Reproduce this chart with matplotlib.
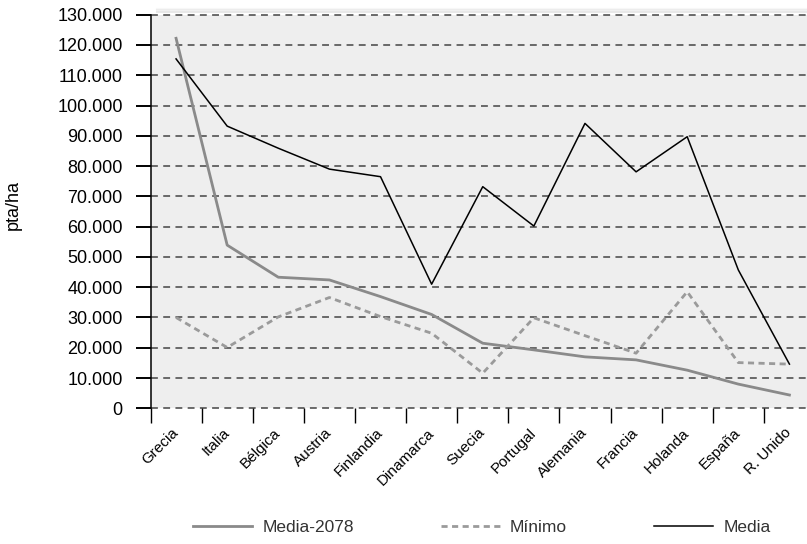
import numpy as np
import matplotlib
matplotlib.use("Agg")
import matplotlib.pyplot as plt
from matplotlib.lines import Line2D

# pta/ha por país
paises = ["Grecia", "Italia", "Bélgica", "Austria", "Finlandia", "Dinamarca",
          "Suecia", "Portugal", "Alemania", "Francia", "Holanda", "España", "R. Unido"]
media_2078 = [122200, 53900, 43300, 42400, 36900, 31000, 21500, 19300, 17000, 16000, 12600, 8000, 4400]
minimo = [30000, 20100, 30200, 36600, 30300, 24800, 11600, 29900, 24000, 18200, 38500, 15100, 14600]
media = [115400, 93200, 85900, 79000, 76500, 41000, 73200, 60200, 94100, 78100, 89700, 45700, 14600]

yticks = np.arange(0, 130001, 10000)
ytick_labels = ["0"] + ["{:,}".format(v).replace(",", ".") for v in yticks[1:]]

fig = plt.figure(figsize=(8.07, 5.44), dpi=100)
ax = fig.add_axes([0.1865, 0.2494, 0.8234, 0.7236])
ax.set_facecolor("#eeeeee")

x = np.arange(len(paises))

# rejilla horizontal discontinua
for v in yticks:
    ax.axhline(v, color="#444444", lw=1.1, ls=(0, (4.5, 3.5)), zorder=1, clip_on=False)

ax.plot(x, media_2078, color="#8a8a8a", lw=2.0, zorder=3)
ax.plot(x, minimo, color="#9a9a9a", lw=2.0, ls=(0, (2.2, 1.6)), zorder=3)
ax.plot(x, media, color="black", lw=1.1, zorder=4)

ax.set_xlim(-0.5, len(paises) - 0.5)
ax.set_ylim(0, 130000)

for s in ["top", "right", "bottom"]:
    ax.spines[s].set_visible(False)
ax.spines["left"].set_linewidth(1.1)
ax.spines["left"].set_zorder(5)

ax.set_yticks(yticks)
ax.set_yticklabels(ytick_labels, fontsize=13, family=["Liberation Sans", "DejaVu Sans"])
ax.tick_params(axis="y", direction="out", length=11, width=1.4, pad=9, color="black")

ax.set_xticks(np.arange(len(paises) + 1) - 0.5)
ax.set_xticklabels([])
ax.set_xticks(x, minor=True)
ax.set_xticklabels(paises, minor=True, rotation=45, ha="right", va="center",
                   rotation_mode="anchor", fontsize=11,
                   family=["Liberation Sans Narrow", "Liberation Sans", "DejaVu Sans"])
ax.tick_params(axis="x", which="major", direction="out", length=11, width=1.0, color="black")
ax.tick_params(axis="x", which="minor", length=0, pad=16)

ax.set_ylabel("pta/ha", fontsize=13, family=["Liberation Sans", "DejaVu Sans"], va="center")
ax.yaxis.set_label_coords(-0.207, 0.516)

# sombra suave sobre el borde superior
for i, a in enumerate([0.18, 0.10, 0.05]):
    fig.add_artist(Line2D([0.195, 1.0], [0.975 + 0.003 * (i + 1)] * 2, color="gray", lw=1.5, alpha=a))

handles = [
    Line2D([], [], color="#8a8a8a", lw=2.0),
    Line2D([], [], color="#9a9a9a", lw=2.0, ls=(0, (2.2, 1.6))),
    Line2D([], [], color="black", lw=1.1),
]
leg = fig.legend(handles, ["Media-2078", "Mínimo", "Media"], loc="center",
                 bbox_to_anchor=(0.597, 0.03), ncol=3, frameon=False,
                 handlelength=3.4, handletextpad=0.6, columnspacing=5.0,
                 prop={"family": ["Liberation Sans", "DejaVu Sans"], "size": 12.5})
for t in leg.get_texts():
    t.set_color("#333333")

fig.savefig("out.png", dpi=100)
